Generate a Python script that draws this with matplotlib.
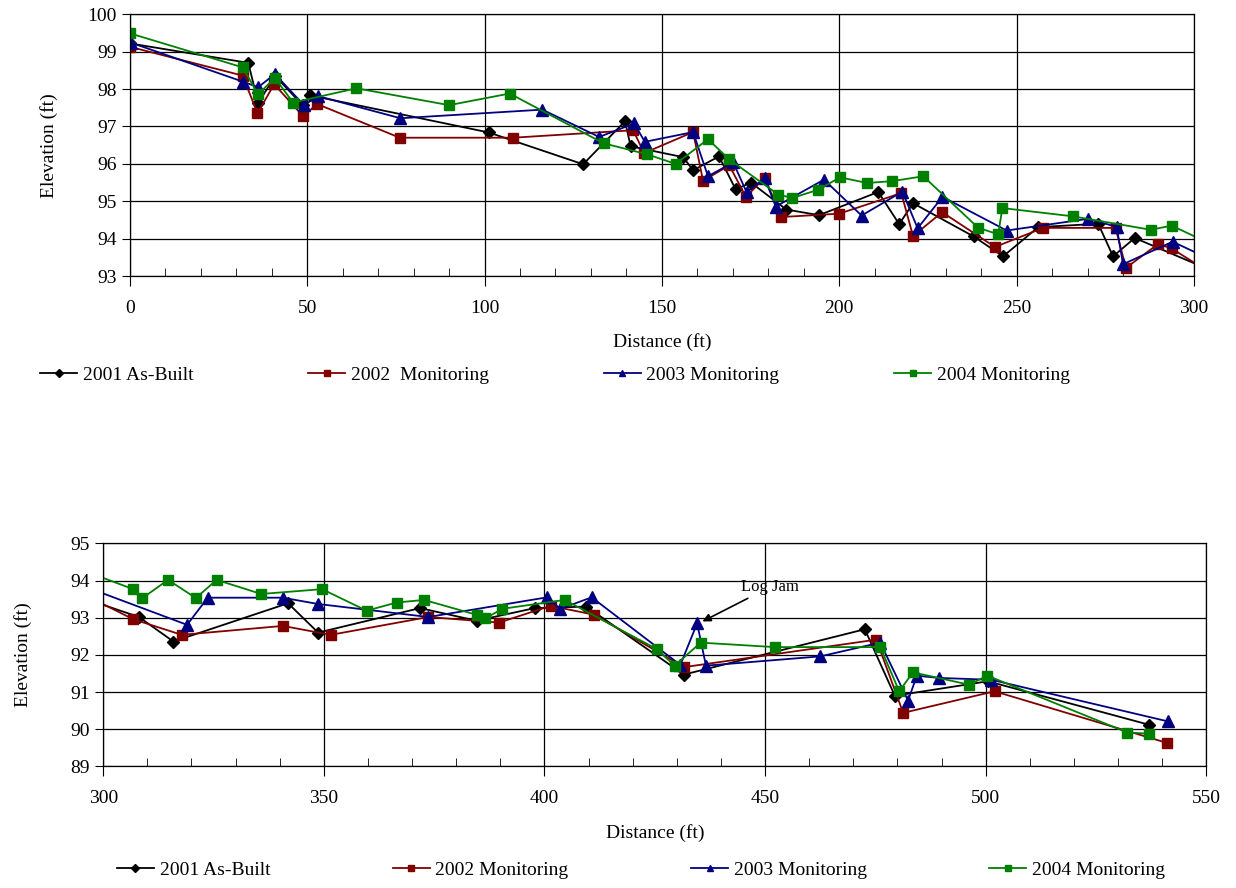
import numpy as np
import matplotlib
matplotlib.use("Agg")
import matplotlib.pyplot as plt
from matplotlib.ticker import MultipleLocator

plt.rcParams['font.family'] = ['Liberation Serif', 'DejaVu Serif']

# survey data (distance ft, elevation ft)
x_2001 = [0, 33.4, 36.2, 41, 48.7, 50.9, 101.2, 127.8, 139.6, 141.2, 156, 158.8, 166.1, 170.8, 175.1,
          185.1, 194.3, 211, 216.9, 220.8, 237.9, 246.2, 256.1, 273, 277.2, 283.3, 308.1, 315.9,
          341.9, 348.7, 371.8, 384.6, 397.8, 409.5, 431.6, 472.6, 479.4, 500.5, 537]
y_2001 = [99.22, 98.70, 97.63, 98.35, 97.57, 97.83, 96.84, 95.99, 97.14, 96.47, 96.18, 95.83, 96.20,
          95.32, 95.50, 94.78, 94.63, 95.25, 94.39, 94.95, 94.06, 93.53, 94.31, 94.40, 93.53, 94.02,
          93.02, 92.36, 93.39, 92.60, 93.26, 92.92, 93.26, 93.30, 91.47, 92.69, 90.90, 91.29, 90.12]

x_2002 = [0, 31.8, 36, 40.7, 48.9, 52.8, 76.1, 108.1, 141.9, 145, 158.8, 161.6, 169, 173.7, 179,
          183.7, 200, 217.5, 220.8, 229, 243.9, 257.5, 277.9, 280.8, 289.9, 293.7, 306.8, 317.8,
          340.7, 351.6, 373.7, 389.7, 401.4, 411.3, 431.6, 475.2, 481.3, 502, 541.1]
y_2002 = [99.13, 98.36, 97.35, 98.13, 97.27, 97.60, 96.70, 96.70, 96.90, 96.29, 96.85, 95.55, 95.96,
          95.12, 95.63, 94.58, 94.67, 95.22, 94.07, 94.71, 93.78, 94.29, 94.29, 93.22, 93.86, 93.74,
          92.96, 92.54, 92.78, 92.54, 93.02, 92.87, 93.32, 93.08, 91.67, 92.41, 90.44, 91.02, 89.63]

x_2003 = [0.3, 31.8, 36.2, 40.9, 49.1, 53.1, 76.3, 116.3, 132.3, 142.2, 145.2, 158.8, 163, 170.1,
          173.9, 179, 182.1, 195.7, 206.3, 217.8, 222.1, 229.1, 247.2, 270, 278.2, 280, 294, 319,
          323.7, 340.7, 348.7, 373.7, 400.6, 403.6, 410.7, 430.8, 434.6, 436.6, 462.5, 476.1, 482.4,
          484.4, 489.4, 501.3, 541.3]
y_2003 = [99.24, 98.20, 98.05, 98.40, 97.57, 97.81, 97.22, 97.45, 96.72, 97.08, 96.59, 96.85, 95.67,
          96.04, 95.24, 95.62, 94.86, 95.58, 94.62, 95.26, 94.28, 95.12, 94.22, 94.53, 94.32, 93.32,
          93.92, 92.81, 93.54, 93.54, 93.37, 93.02, 93.55, 93.24, 93.55, 91.73, 92.85, 91.71, 91.96,
          92.33, 90.77, 91.44, 91.38, 91.33, 90.21]

x_2004 = [0, 31.8, 36.2, 40.9, 46, 63.9, 90, 107.1, 133.6, 145.7, 153.9, 163, 169, 182.8, 186.8,
          194.1, 200.2, 207.9, 215, 223.7, 239.2, 244.8, 246, 265.8, 287.8, 293.7, 306.8, 308.9,
          314.7, 321, 325.7, 335.8, 349.6, 359.7, 366.5, 372.7, 384.6, 386.6, 390.4, 404.6, 425.4,
          429.5, 435.4, 452.2, 476.1, 480.4, 483.5, 496.2, 500.4, 532.1, 537]
y_2004 = [99.49, 98.58, 97.86, 98.30, 97.64, 98.02, 97.57, 97.88, 96.55, 96.26, 96.00, 96.66, 96.12,
          95.18, 95.09, 95.31, 95.64, 95.49, 95.54, 95.67, 94.29, 94.12, 94.82, 94.60, 94.24, 94.35,
          93.77, 93.53, 94.02, 93.53, 94.02, 93.64, 93.77, 93.19, 93.41, 93.48, 93.08, 92.98, 93.24,
          93.48, 92.16, 91.71, 92.33, 92.21, 92.21, 91.02, 91.53, 91.20, 91.44, 89.91, 89.88]

labels_top = ['2001 As-Built', '2002  Monitoring', '2003 Monitoring', '2004 Monitoring']
labels_bot = ['2001 As-Built', '2002 Monitoring', '2003 Monitoring', '2004 Monitoring']

series = [
    (x_2001, y_2001, 'black', 'D', 6.5),
    (x_2002, y_2002, '#800000', 's', 7),
    (x_2003, y_2003, '#000080', '^', 8),
    (x_2004, y_2004, '#008000', 's', 7),
]

fig = plt.figure(figsize=(12.36, 8.88), dpi=100)
ax1 = fig.add_axes([0.105, 0.689, 0.861, 0.295])
ax2 = fig.add_axes([0.0835, 0.137, 0.8925, 0.251])


def draw_panel(ax, xlim, ylim, labels, legend_y, legend_x, colspace):
    handles = []
    for (xs, ys, c, m, ms), lab in zip(series, labels):
        h, = ax.plot(xs, ys, color=c, marker=m, markersize=ms, markeredgecolor=c,
                     linewidth=1.3, label=lab, clip_on=True)
        handles.append(h)
    ax.set_xlim(*xlim)
    ax.set_ylim(*ylim)
    ax.xaxis.set_major_locator(MultipleLocator(50))
    ax.xaxis.set_minor_locator(MultipleLocator(10))
    ax.yaxis.set_major_locator(MultipleLocator(1))
    ax.grid(True, which='major', color='black', linewidth=0.9)
    ax.set_axisbelow(True)
    ax.tick_params(axis='x', which='major', direction='out', length=7, labelsize=14, pad=10)
    ax.tick_params(axis='x', which='minor', direction='in', length=6)
    ax.tick_params(axis='y', which='major', direction='out', length=6, labelsize=14)
    for s in ax.spines.values():
        s.set_color('black')
        s.set_linewidth(0.9)
    ax.set_xlabel('Distance (ft)', fontsize=14, labelpad=12)
    ax.set_ylabel('Elevation (ft)', fontsize=14)
    fig.legend(handles=handles, loc='center', bbox_to_anchor=(legend_x, legend_y), ncol=4,
               frameon=False, fontsize=14, handlelength=1.9, handletextpad=0.3,
               columnspacing=colspace, markerscale=0.6)


draw_panel(ax1, (0, 300), (93, 100), labels_top, 1 - 375 / 888, 555 / 1236, 5.9)
draw_panel(ax2, (300, 550), (89, 95), labels_bot, 1 - 870 / 888, 641 / 1236, 6.3)

ax1.yaxis.set_label_coords(-0.067, 0.5)
ax2.yaxis.set_label_coords(-0.065, 0.5)

ax2.annotate('Log Jam', xy=(435.8, 92.9), xytext=(444.6, 93.83), fontsize=12,
             ha='left', va='center',
             arrowprops=dict(arrowstyle='-|>', color='black', lw=1.2, mutation_scale=12,
                             shrinkA=1, shrinkB=0))

fig.savefig('out.png', dpi=100)
